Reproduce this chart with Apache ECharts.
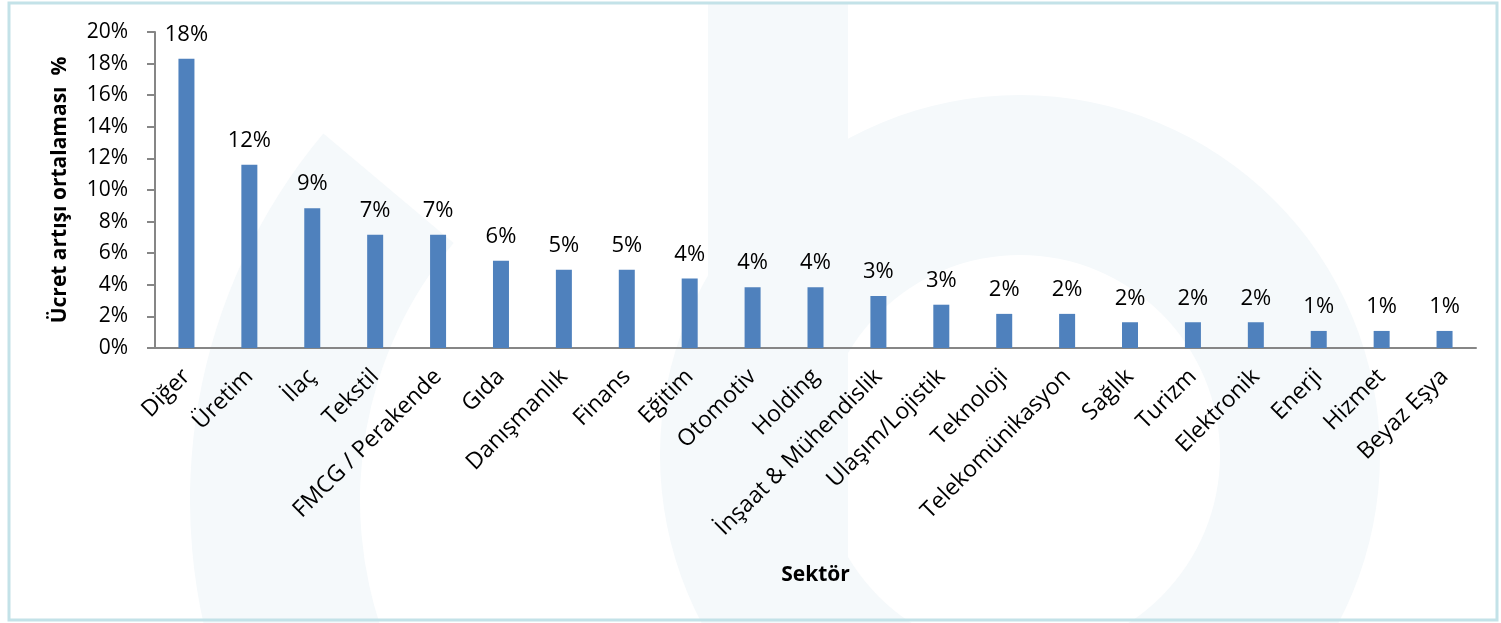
<!DOCTYPE html>
<html>
<head>
<meta charset="utf-8">
<script src="https://cdn.jsdelivr.net/npm/echarts@6/dist/echarts.min.js"></script>
<style>
html,body{margin:0;padding:0;background:#fff;}
#c{width:1501px;height:623px;}
</style>
</head>
<body>
<div id="c"></div>
<script>
const categories = ['Diğer','Üretim','İlaç','Tekstil','FMCG / Perakende','Gıda','Danışmanlık','Finans','Eğitim','Otomotiv','Holding','İnşaat & Mühendislik','Ulaşım/Lojistik','Teknoloji','Telekomünikasyon','Sağlık','Turizm','Elektronik','Enerji','Hizmet','Beyaz Eşya'];
const values = [18.3, 11.6, 8.85, 7.17, 7.17, 5.53, 4.95, 4.95, 4.4, 3.85, 3.85, 3.29, 2.74, 2.16, 2.16, 1.63, 1.63, 1.63, 1.08, 1.08, 1.08];
const yTicks = [0, 2, 4, 6, 8, 10, 12, 14, 16, 18, 20];
const yAxisName = 'Ücret artışı ortalaması  %';
const xAxisName = 'Sektör';

const FONT = '"Open Sans", "Noto Sans", sans-serif';
const WM = '#f5f9fb';
const chart = echarts.init(document.getElementById('c'), null, {renderer: 'canvas'});
chart.setOption({
  backgroundColor: '#ffffff',
  animation: false,
  textStyle: {fontFamily: FONT},
  graphic: [
    {type: 'sector', z: -10, silent: true, shape: {cx: 760, cy: 500, r0: 400, r: 570, startAngle: 160 * Math.PI / 180, endAngle: 220 * Math.PI / 180, clockwise: true}, style: {fill: WM}},
    {type: 'rect', z: -10, silent: true, shape: {x: 708, y: 3, width: 140, height: 618}, style: {fill: WM}},
    {type: 'ring', z: -10, silent: true, shape: {cx: 1020, cy: 455, r0: 200, r: 360}, style: {fill: WM}},
    {type: 'rect', z: -5, silent: true, shape: {x: 9, y: 3, width: 1488, height: 617}, style: {fill: 'none', stroke: '#c3e2e8', lineWidth: 3}}
  ],
  grid: {left: 155, right: 25, top: 32, bottom: 275, containLabel: false},
  xAxis: {
    type: 'category',
    data: categories,
    name: xAxisName,
    nameLocation: 'middle',
    nameGap: 217,
    nameTextStyle: {fontFamily: FONT, fontSize: 21, fontWeight: 'bold', color: '#000'},
    axisLine: {lineStyle: {color: '#868686', width: 2}},
    axisTick: {show: false},
    axisLabel: {rotate: 45, interval: 0, margin: 25, fontSize: 23, color: '#000', fontFamily: FONT}
  },
  yAxis: {
    type: 'value',
    min: 0, max: 20, interval: 2,
    name: yAxisName,
    nameLocation: 'middle',
    nameRotate: 90,
    nameGap: 84,
    nameTextStyle: {fontFamily: FONT, fontSize: 21, fontWeight: 'bold', color: '#000'},
    axisLine: {show: true, lineStyle: {color: '#868686', width: 2}},
    axisTick: {show: true, length: 8, lineStyle: {color: '#868686', width: 2}},
    splitLine: {show: false},
    axisLabel: {margin: 27, fontSize: 21, color: '#000', fontFamily: FONT,
      formatter: function (v) { return yTicks.indexOf(v) >= 0 ? v + '%' : ''; }}
  },
  series: [{
    type: 'bar',
    data: values,
    barWidth: 16,
    itemStyle: {color: '#4f81bd'},
    label: {show: true, position: 'top', distance: 13, fontSize: 22, color: '#000', fontFamily: FONT,
      formatter: function (p) { return Math.round(p.value) + '%'; }}
  }]
});
</script>
</body>
</html>
